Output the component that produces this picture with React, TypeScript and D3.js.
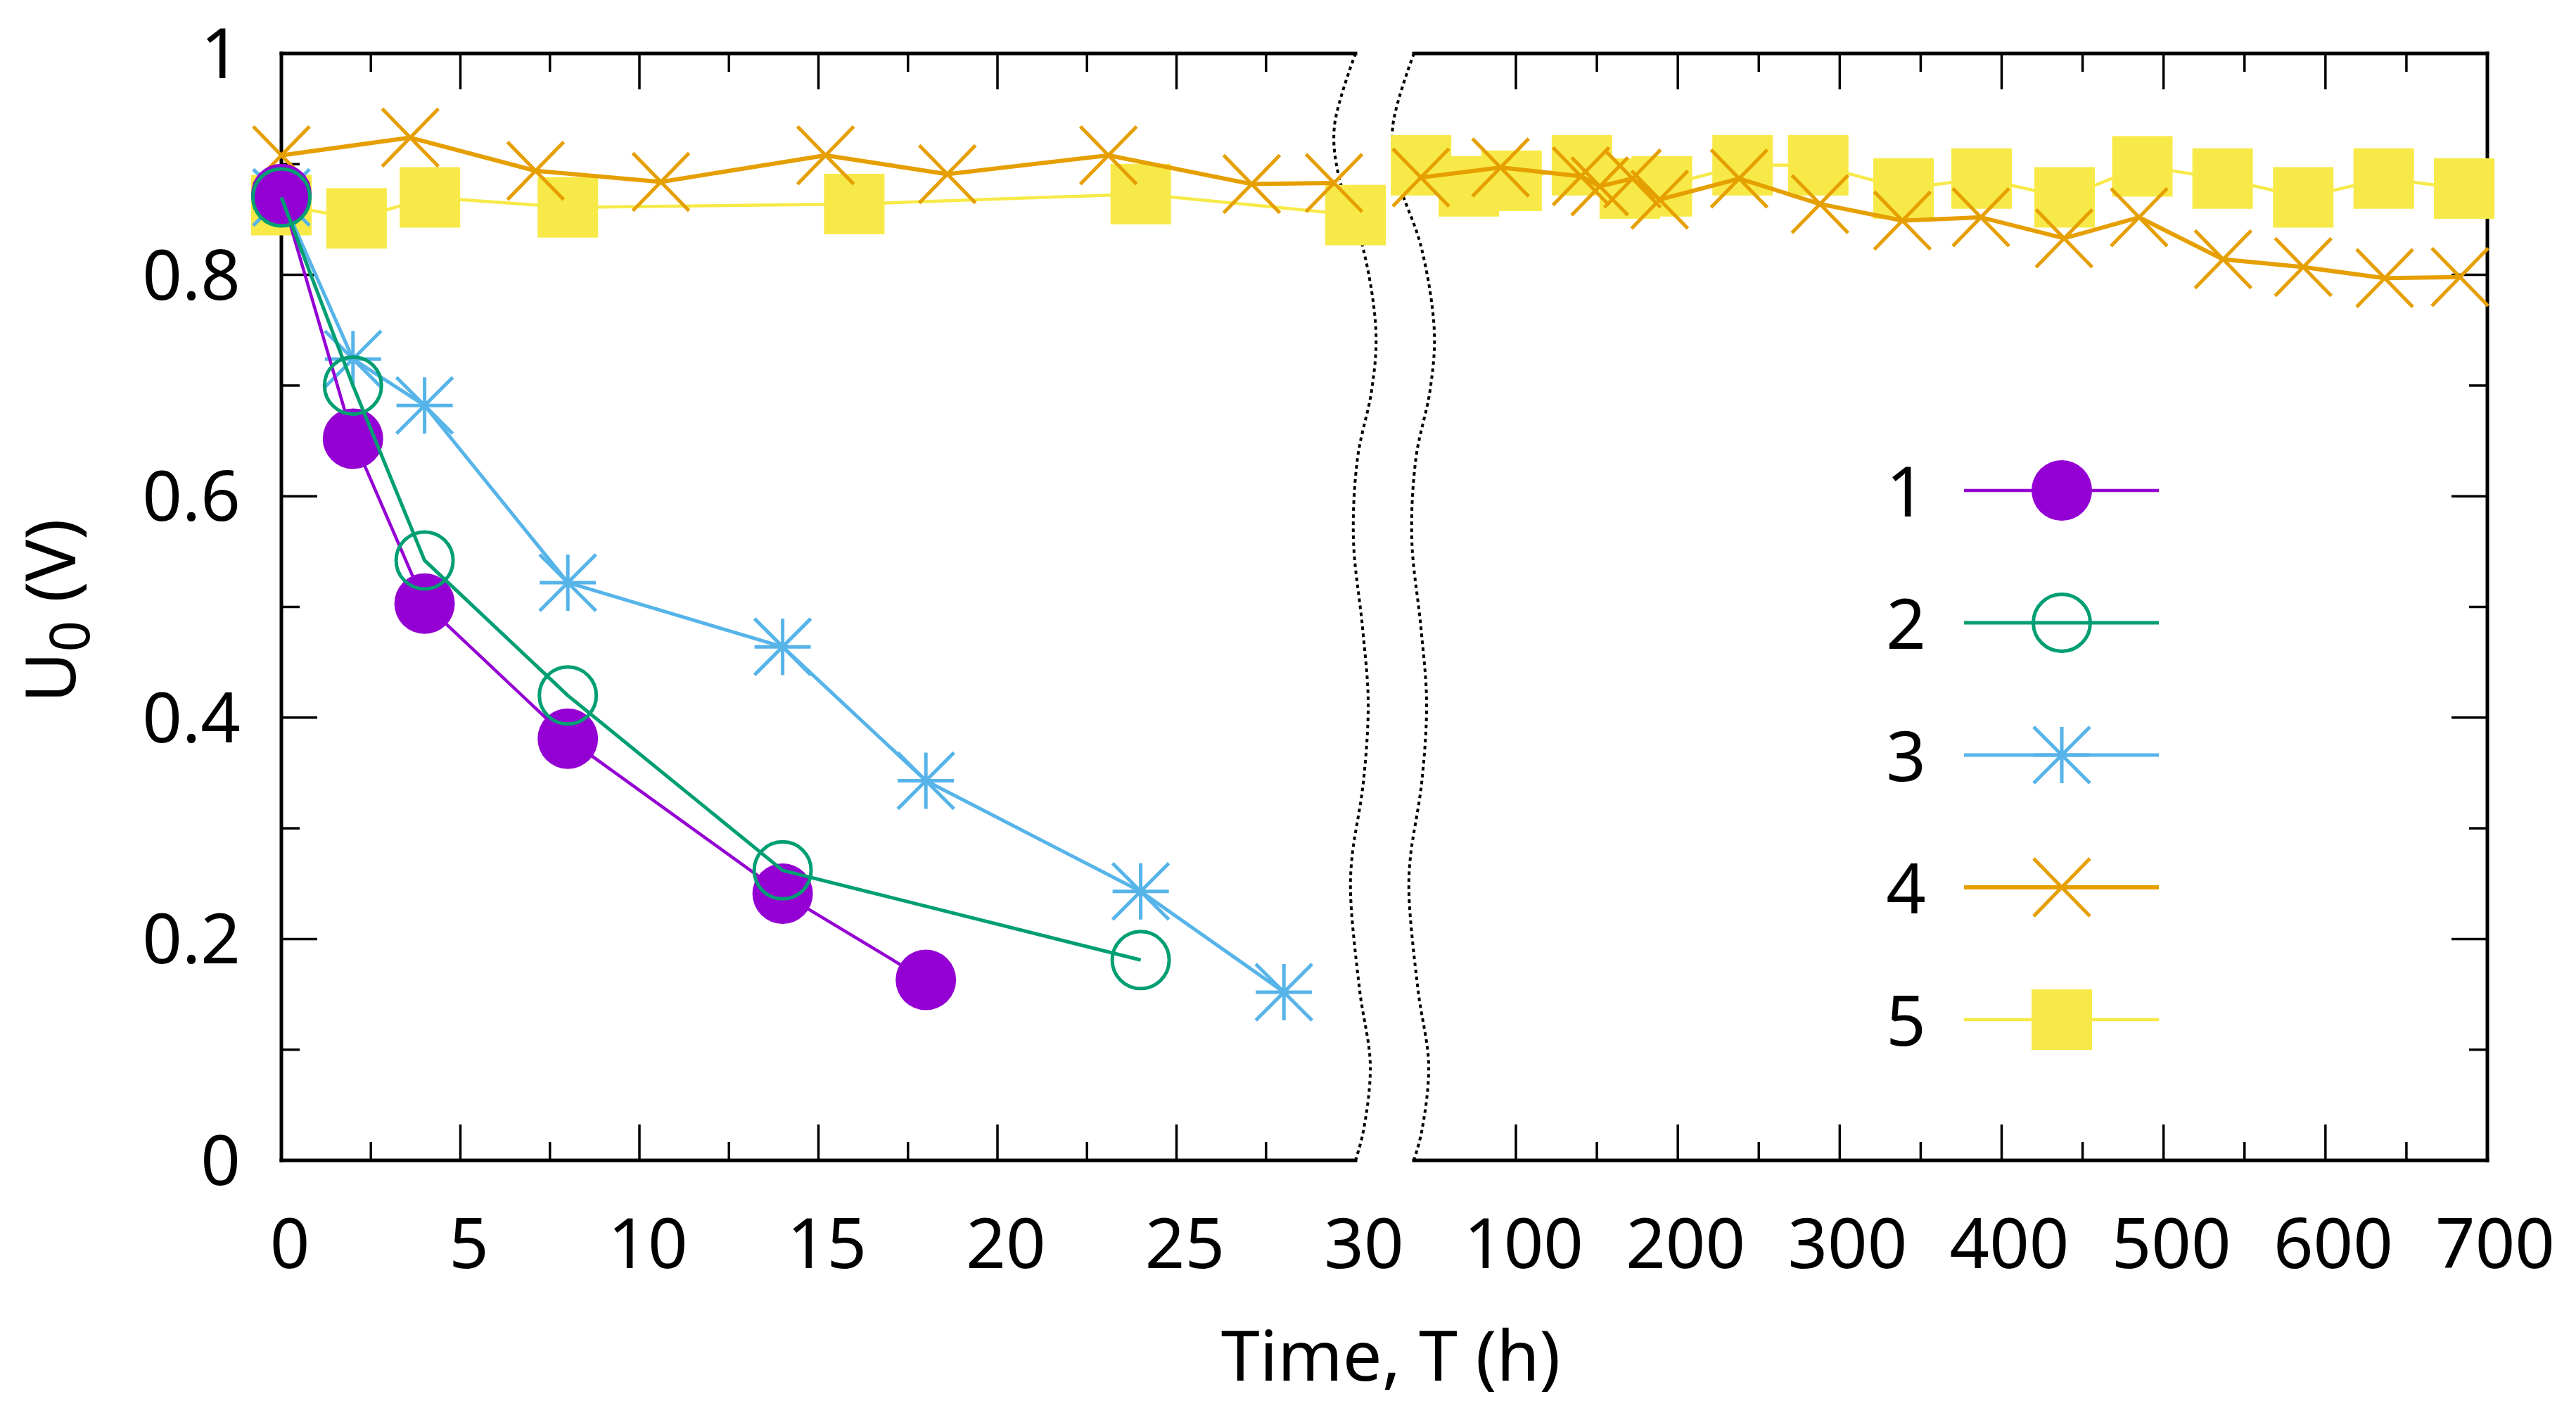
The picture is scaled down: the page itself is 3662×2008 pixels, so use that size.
import React from 'react';
import * as d3 from 'd3';

// ---------- data ----------
const seriesNames = ['1', '2', '3', '4', '5'];
const s1T = [0, 2, 4, 8, 14, 18];
const s1U = [0.873, 0.652, 0.503, 0.381, 0.241, 0.163];
const s2T = [0, 2, 4, 8, 14, 24];
const s2U = [0.870, 0.700, 0.542, 0.420, 0.262, 0.181];
const s3T = [0, 2, 4, 8, 14, 18, 24, 28];
const s3U = [0.870, 0.724, 0.682, 0.522, 0.464, 0.343, 0.243, 0.152];
const s4T = [0, 3.6, 7.1, 10.6, 15.2, 18.6, 23.1, 27.1, 29.4, 41.3, 90.5, 140.2, 151.8, 172, 188.8, 237.9, 287.8, 338.7, 387.2, 438.6, 484.9, 536.8, 586.3, 636.6, 683.1];
const s4U = [0.908, 0.924, 0.894, 0.884, 0.908, 0.891, 0.908, 0.882, 0.883, 0.888, 0.897, 0.889, 0.880, 0.887, 0.868, 0.887, 0.864, 0.849, 0.852, 0.833, 0.852, 0.814, 0.807, 0.797, 0.798];
const s5T = [0, 2.1, 4.15, 8, 16, 24, 30, 41.4, 70.9, 97.3, 140.8, 170.3, 190.2, 240, 286.7, 339.4, 387.6, 438.9, 486.9, 536.5, 586.3, 636, 685.7];
const s5U = [0.863, 0.851, 0.870, 0.861, 0.864, 0.873, 0.854, 0.899, 0.880, 0.885, 0.899, 0.878, 0.880, 0.899, 0.899, 0.878, 0.887, 0.870, 0.898, 0.887, 0.870, 0.887, 0.878];

const yMajor = [0, 0.2, 0.4, 0.6, 0.8, 1];
const yMajorLabels = ['0', '0.2', '0.4', '0.6', '0.8', '1'];
const yMinor = [0.1, 0.3, 0.5, 0.7, 0.9];
const xLeftMajor = [0, 5, 10, 15, 20, 25, 30];
const xLeftMinor = [2.5, 7.5, 12.5, 17.5, 22.5, 27.5];
const xRightMajor = [100, 200, 300, 400, 500, 600, 700];
const xRightMinor = [150, 250, 350, 450, 550, 650];
const breakAt = 30;

// ---------- layout ----------
const W = 3662, H = 2008;
const TOP = 76, BOT = 1649;
const L0 = 400, L1 = 1927, R0 = 2010, R1 = 3536;
const FONT = '"Noto Sans", "Open Sans", sans-serif';
const FS = 99;

const colors = ['#9400d3', '#009e73', '#56b4e9', '#e69f00', '#f7ea48'];
const kinds = ['fcircle', 'ocircle', 'star', 'cross', 'square'];

const y = d3.scaleLinear().domain([0, 1]).range([BOT, TOP]);
const xL = d3.scaleLinear().domain([0, 30]).range([L0, L1]);
const xR = d3.scaleLinear().domain([37, 700]).range([R0, R1]);

// break wave shape (relative offsets)
const waveF = [0, 0.0655, 0.1106, 0.174, 0.251, 0.304, 0.365, 0.439, 0.519, 0.586, 0.659, 0.726, 0.76, 0.847, 0.914, 0.974, 1];
const waveDX = [0, -30, -24, 10, 29, 23, 3, -3, 10, 18, 11, -5, -7, 6, 21, 11, 0];

function Marker({ kind, color, cx, cy }: { kind: string; color: string; cx: number; cy: number }) {
  const t = `translate(${cx},${cy})`;
  if (kind === 'fcircle') return <circle cx={cx} cy={cy} r={43} fill={color} />;
  if (kind === 'ocircle') return <circle cx={cx} cy={cy} r={40.5} fill="none" stroke={color} strokeWidth={5} />;
  if (kind === 'star')
    return <path transform={t} d="M-40,0H40M0,-40V40M-40,-40L40,40M-40,40L40,-40" stroke={color} strokeWidth={5} fill="none" />;
  if (kind === 'cross')
    return <path transform={t} d="M-40,-41L40,41M-40,41L40,-41" stroke={color} strokeWidth={5} fill="none" />;
  return <rect x={cx - 43} y={cy - 43} width={86} height={86} fill={color} />;
}

export default function App() {
  const all = [
    { t: s1T, u: s1U },
    { t: s2T, u: s2U },
    { t: s3T, u: s3U },
    { t: s4T, u: s4U },
    { t: s5T, u: s5U },
  ];
  const order = [4, 3, 2, 0, 1];
  const lineWidths = [4.5, 5, 5, 6, 4.5];

  const renderSeries = (i: number) => {
    const s = all[i];
    const pts = s.t.map((t, k) => ({ t, u: s.u[k] }));
    const left = pts.filter(p => p.t <= breakAt);
    const right = pts.filter(p => p.t > breakAt);
    const lineL = d3.line<{ t: number; u: number }>().x(p => xL(p.t)).y(p => y(p.u));
    const lineR = d3.line<{ t: number; u: number }>().x(p => xR(p.t)).y(p => y(p.u));
    return (
      <g key={'s' + i}>
        {left.length > 1 && <path d={lineL(left) || ''} fill="none" stroke={colors[i]} strokeWidth={lineWidths[i]} strokeLinejoin="round" />}
        {right.length > 1 && <path d={lineR(right) || ''} fill="none" stroke={colors[i]} strokeWidth={lineWidths[i]} strokeLinejoin="round" />}
        {left.map((p, k) => <Marker key={'l' + k} kind={kinds[i]} color={colors[i]} cx={xL(p.t)} cy={y(p.u)} />)}
        {right.map((p, k) => <Marker key={'r' + k} kind={kinds[i]} color={colors[i]} cx={xR(p.t)} cy={y(p.u)} />)}
      </g>
    );
  };

  const wave = (x0: number) =>
    d3.line<number>().x((_, k) => x0 + waveDX[k]).y(f => TOP + f * (BOT - TOP)).curve(d3.curveCatmullRom.alpha(0.5))(waveF) || '';

  const legendY = [697, 885, 1073, 1261, 1449];

  const majorLen = 51, minorLen = 26, tickW = 3.5;
  const xLabelY = 1802;

  return (
    <svg width={W} height={H} style={{ position: 'absolute', left: 0, top: 0, background: '#fff' }} fontFamily={FONT}>
      <rect width={W} height={H} fill="#fff" />
      {/* ticks */}
      <g stroke="#000" strokeWidth={tickW}>
        {yMajor.map(v => <line key={'yl' + v} x1={L0} x2={L0 + majorLen} y1={y(v)} y2={y(v)} />)}
        {yMinor.map(v => <line key={'ylm' + v} x1={L0} x2={L0 + minorLen} y1={y(v)} y2={y(v)} />)}
        {yMajor.map(v => <line key={'yr' + v} x1={R1} x2={R1 - majorLen} y1={y(v)} y2={y(v)} />)}
        {yMinor.map(v => <line key={'yrm' + v} x1={R1} x2={R1 - minorLen} y1={y(v)} y2={y(v)} />)}
        {xLeftMajor.filter(v => v > 0 && v < 30).map(v => (
          <g key={'xl' + v}>
            <line x1={xL(v)} x2={xL(v)} y1={BOT} y2={BOT - majorLen} />
            <line x1={xL(v)} x2={xL(v)} y1={TOP} y2={TOP + majorLen} />
          </g>
        ))}
        {xLeftMinor.map(v => (
          <g key={'xlm' + v}>
            <line x1={xL(v)} x2={xL(v)} y1={BOT} y2={BOT - minorLen} />
            <line x1={xL(v)} x2={xL(v)} y1={TOP} y2={TOP + minorLen} />
          </g>
        ))}
        {xRightMajor.filter(v => v < 700).map(v => (
          <g key={'xr' + v}>
            <line x1={xR(v)} x2={xR(v)} y1={BOT} y2={BOT - majorLen} />
            <line x1={xR(v)} x2={xR(v)} y1={TOP} y2={TOP + majorLen} />
          </g>
        ))}
        {xRightMinor.map(v => (
          <g key={'xrm' + v}>
            <line x1={xR(v)} x2={xR(v)} y1={BOT} y2={BOT - minorLen} />
            <line x1={xR(v)} x2={xR(v)} y1={TOP} y2={TOP + minorLen} />
          </g>
        ))}
      </g>
      {/* frame */}
      <g stroke="#000" strokeWidth={5} strokeLinecap="square">
        <line x1={L0} x2={L1} y1={TOP} y2={TOP} />
        <line x1={L0} x2={L1} y1={BOT} y2={BOT} />
        <line x1={R0} x2={R1} y1={TOP} y2={TOP} />
        <line x1={R0} x2={R1} y1={BOT} y2={BOT} />
        <line x1={L0} x2={L0} y1={TOP} y2={BOT} />
        <line x1={R1} x2={R1} y1={TOP} y2={BOT} />
      </g>
      {/* break lines */}
      <path d={wave(L1)} fill="none" stroke="#000" strokeWidth={4} strokeDasharray="5 5" />
      <path d={wave(R0)} fill="none" stroke="#000" strokeWidth={4} strokeDasharray="5 5" />

      {/* data */}
      {order.map(i => renderSeries(i))}

      {/* tick labels */}
      <g fontSize={FS} fill="#000">
        {yMajor.map((v, k) => (
          <text key={'ylab' + v} x={342} y={y(v) + 35} textAnchor="end">{yMajorLabels[k]}</text>
        ))}
        {xLeftMajor.map(v => (
          <text key={'xlab' + v} x={xL(v) + 12} y={xLabelY} textAnchor="middle">{String(v)}</text>
        ))}
        {xRightMajor.map(v => (
          <text key={'xrlab' + v} x={xR(v) + 11} y={xLabelY} textAnchor="middle">{String(v)}</text>
        ))}
      </g>

      {/* axis titles */}
      <text x={1977} y={1962} fontSize={FS} textAnchor="middle">Time, T (h)</text>
      <text transform="translate(107,868) rotate(-90)" fontSize={FS} textAnchor="middle">
        U<tspan fontSize={78} dy={20}>0</tspan><tspan dy={-20}> (V)</tspan>
      </text>

      {/* legend */}
      {seriesNames.map((name, i) => (
        <g key={'leg' + i}>
          <text x={2738} y={legendY[i] + 37} fontSize={FS} textAnchor="end">{name}</text>
          <line x1={2792} x2={3069} y1={legendY[i]} y2={legendY[i]} stroke={colors[i]} strokeWidth={lineWidths[i]} />
          <Marker kind={kinds[i]} color={colors[i]} cx={2931} cy={legendY[i]} />
        </g>
      ))}
    </svg>
  );
}
